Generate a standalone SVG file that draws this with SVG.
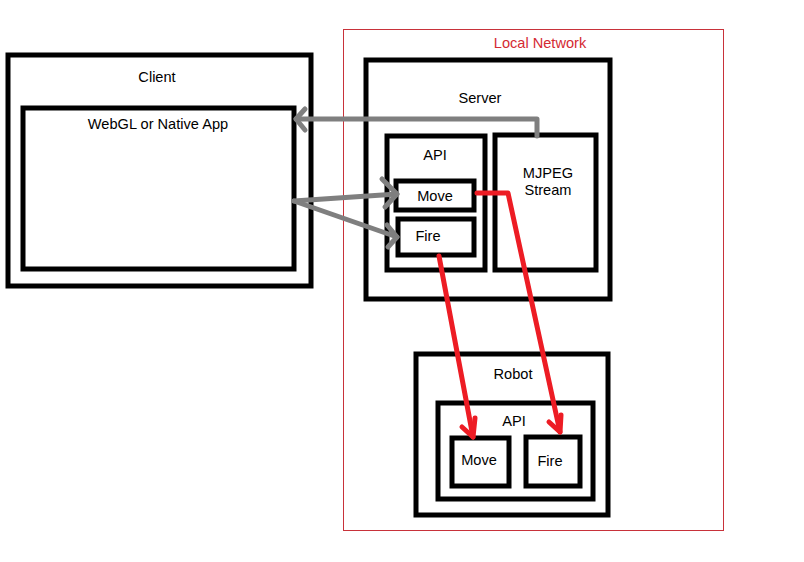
<svg xmlns="http://www.w3.org/2000/svg" width="804" height="562" viewBox="0 0 804 562">
<style>
.box{fill:none;stroke:#000;stroke-width:5}
.t{font-family:"Liberation Sans",Arial,sans-serif;font-size:14.6px;fill:#000;text-anchor:middle}
.gray{fill:none;stroke:#7f7f7f;stroke-width:5;stroke-linecap:round;stroke-linejoin:round}
.red{fill:none;stroke:#ed1c24;stroke-width:5;stroke-linecap:round;stroke-linejoin:round}
</style>
<rect width="804" height="562" fill="#fff"/>
<g id="local-network">
<rect x="343.5" y="29.5" width="380" height="501" fill="none" stroke="#c8323a" stroke-width="1"/>
<text class="t" x="540" y="48" style="fill:#d42a32">Local Network</text>
</g>
<g id="client">
<rect class="box" x="8" y="55" width="303" height="231"/>
<text class="t" x="157" y="82">Client</text>
</g>
<g id="webgl-app">
<rect class="box" x="23" y="108" width="271" height="161"/>
<text class="t" x="158" y="129">WebGL or Native App</text>
</g>
<g id="server">
<rect class="box" x="366" y="60" width="244" height="239"/>
<text class="t" x="480" y="103">Server</text>
</g>
<g id="server-api">
<rect class="box" x="387" y="136" width="98" height="134"/>
<text class="t" x="435" y="160">API</text>
</g>
<g id="server-move">
<rect class="box" x="396" y="181" width="78" height="29"/>
<text class="t" x="435" y="201">Move</text>
</g>
<g id="server-fire">
<rect class="box" x="398" y="219" width="76" height="36"/>
<text class="t" x="428" y="241">Fire</text>
</g>
<g id="mjpeg">
<rect class="box" x="495" y="135" width="101" height="135"/>
<text class="t" x="548" y="178">MJPEG</text>
<text class="t" x="548" y="195">Stream</text>
</g>
<g id="robot">
<rect class="box" x="416" y="354" width="192" height="161"/>
<text class="t" x="513" y="379">Robot</text>
</g>
<g id="robot-api">
<rect class="box" x="438" y="403" width="155" height="96"/>
<text class="t" x="514" y="426">API</text>
</g>
<g id="robot-move">
<rect class="box" x="452" y="438" width="57" height="48"/>
<text class="t" x="479" y="465">Move</text>
</g>
<g id="robot-fire">
<rect class="box" x="526" y="437" width="54" height="49"/>
<text class="t" x="550" y="466">Fire</text>
</g>
<g id="connectors">
<polyline class="gray" points="537,136 537,119 296,119"/>
<polyline class="gray" points="305,109 296,119 305,130"/>
<line class="gray" x1="294" y1="201" x2="397" y2="194"/>
<polyline class="gray" points="382,179 397,194 385,207"/>
<line class="gray" x1="294" y1="201" x2="397" y2="237"/>
<polyline class="gray" points="387,225 397,237 388,247"/>
<polyline class="red" points="477,193 508,193 560,432"/>
<polyline class="red" points="549,422 560,432 561,415"/>
<line class="red" x1="439" y1="256" x2="473" y2="437"/>
<polyline class="red" points="462,427 473,437 475,418"/>
</g>
</svg>
